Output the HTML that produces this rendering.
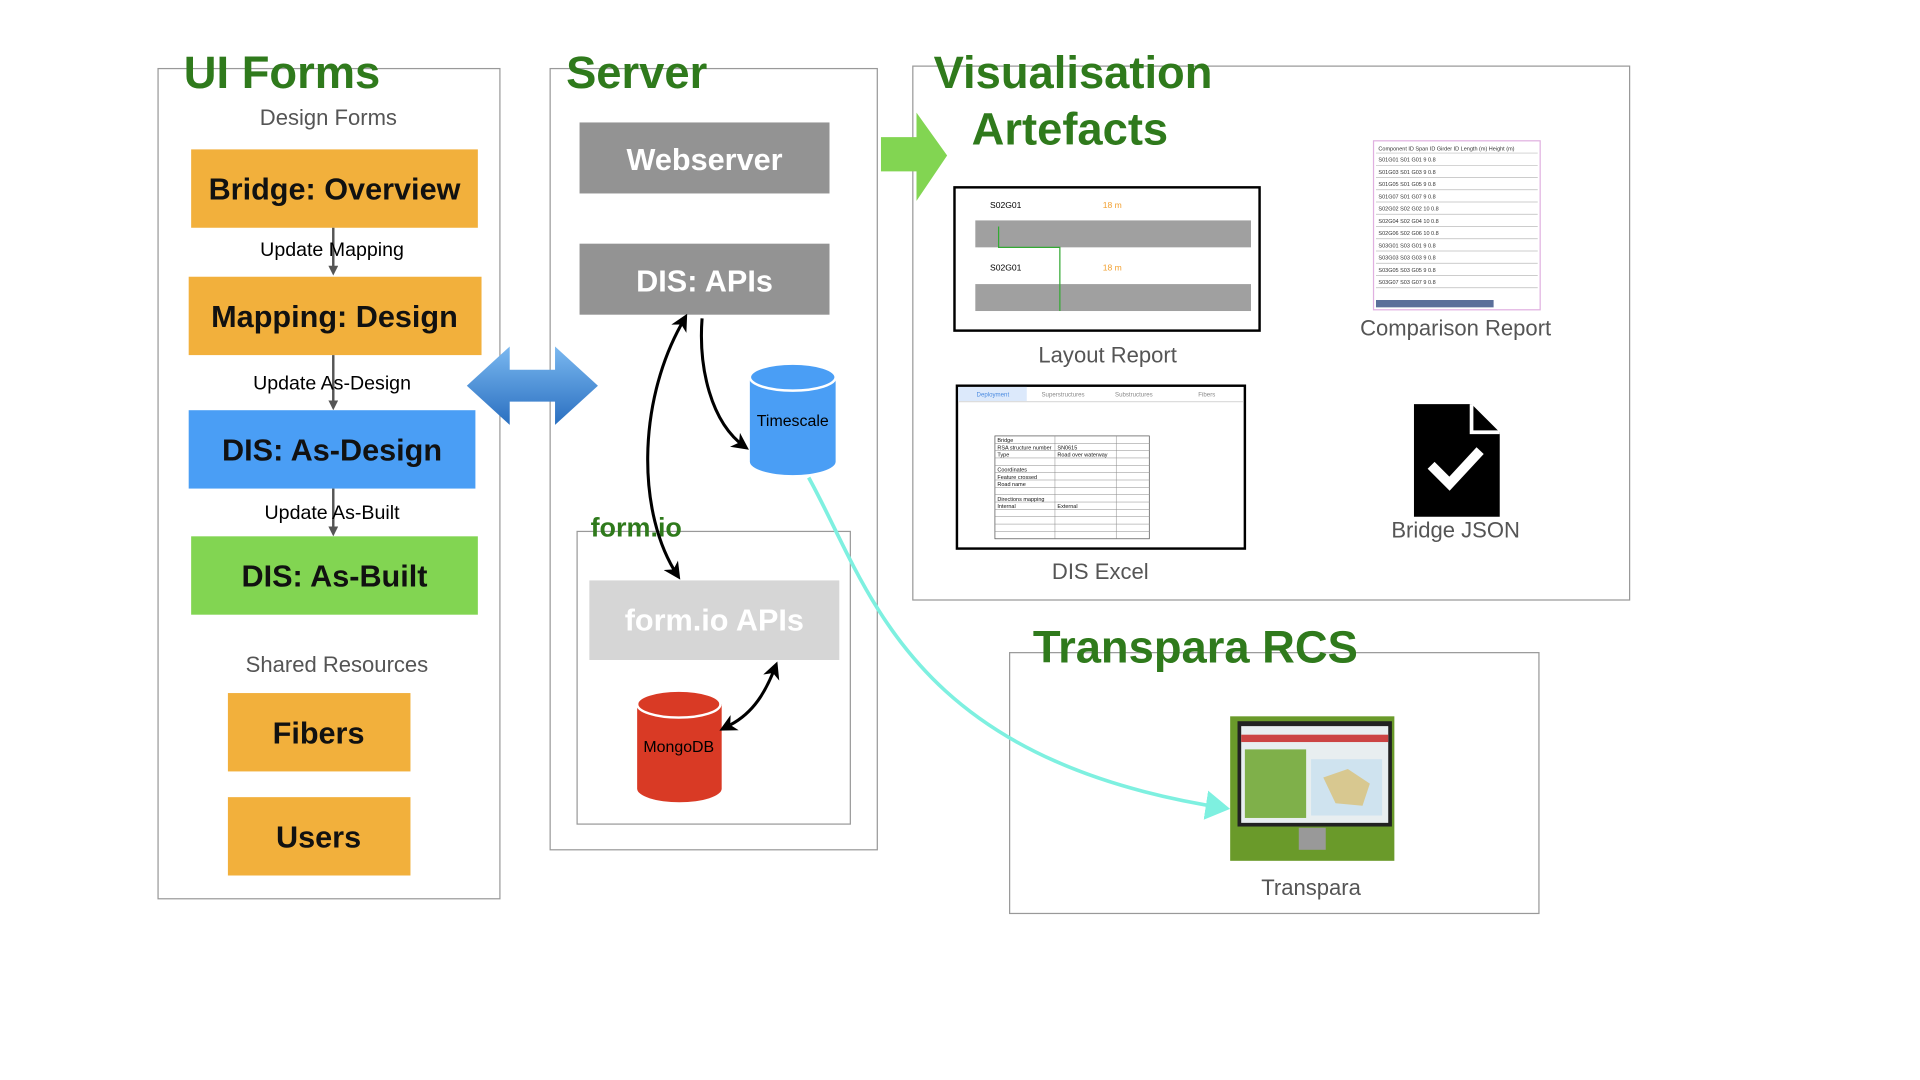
<!DOCTYPE html>
<html><head><meta charset="utf-8"><style>
html,body{margin:0;padding:0;background:#fff;width:1920px;height:1080px;overflow:hidden}
svg{display:block}
text{font-family:"Liberation Sans",sans-serif}
</style></head><body>
<svg width="1920" height="1080" viewBox="0 0 1567 882" preserveAspectRatio="none" xmlns="http://www.w3.org/2000/svg">
<defs>
<marker id="ah" markerWidth="8" markerHeight="8" refX="6" refY="4" orient="auto" markerUnits="userSpaceOnUse"><path d="M0,0 L8,4 L0,8 Z" fill="#555"/></marker>
<marker id="bk" markerWidth="14" markerHeight="14" refX="10" refY="7" orient="auto" markerUnits="userSpaceOnUse"><path d="M0,0 L14,7 L0,14 L4,7 Z" fill="#000"/></marker>
<marker id="bks" markerWidth="14" markerHeight="14" refX="4" refY="7" orient="auto-start-reverse" markerUnits="userSpaceOnUse"><path d="M0,0 L14,7 L0,14 L4,7 Z" fill="#000"/></marker>
<marker id="cy" markerWidth="20" markerHeight="24" refX="16" refY="12" orient="auto" markerUnits="userSpaceOnUse"><path d="M0,0 L20,12 L0,24 Z" fill="#7ef0e0"/></marker>
<linearGradient id="bg" x1="0" y1="0" x2="0" y2="1"><stop offset="0" stop-color="#7ab8f0"/><stop offset="1" stop-color="#2a6fc0"/></linearGradient>
</defs>
<g fill="none" stroke="#999" stroke-width="1">
<rect x="129" y="56" width="279" height="678"/>
<rect x="449" y="56" width="267" height="638"/>
<rect x="471" y="434" width="223" height="239"/>
<rect x="745" y="54" width="585" height="436"/>
<rect x="824" y="533" width="432" height="213"/>
</g>
<g font-weight="bold" fill="#2f7a1c">
<text x="150" y="72" font-size="37">UI Forms</text>
<text x="462" y="72" font-size="37">Server</text>
<text x="762" y="72" font-size="37">Visualisation</text>
<text x="793" y="118" font-size="37">Artefacts</text>
<text x="843" y="541" font-size="37">Transpara RCS</text>
<text x="482" y="438" font-size="22">form.io</text>
</g>
<g fill="#555" font-size="18" text-anchor="middle">
<text x="268" y="102">Design Forms</text>
<text x="275" y="549">Shared Resources</text>
<text x="904" y="296">Layout Report</text>
<text x="1188" y="274">Comparison Report</text>
<text x="898" y="473">DIS Excel</text>
<text x="1188" y="439">Bridge JSON</text>
<text x="1070" y="731">Transpara</text>
</g>
<rect x="156" y="122" width="234" height="64" fill="#f2b03c"/>
<rect x="154" y="226" width="239" height="64" fill="#f2b03c"/>
<rect x="154" y="335" width="234" height="64" fill="#4a9ef5"/>
<rect x="156" y="438" width="234" height="64" fill="#82d552"/>
<rect x="186" y="566" width="149" height="64" fill="#f2b03c"/>
<rect x="186" y="651" width="149" height="64" fill="#f2b03c"/>
<g stroke="#555" stroke-width="2" marker-end="url(#ah)">
<line x1="272" y1="186" x2="272" y2="223"/>
<line x1="272" y1="290" x2="272" y2="333"/>
<line x1="272" y1="399" x2="272" y2="436"/>
</g>
<g font-size="16" fill="#000" text-anchor="middle">
<text x="271" y="209">Update Mapping</text>
<text x="271" y="318">Update As-Design</text>
<text x="271" y="424">Update As-Built</text>
</g>
<g font-size="25" fill="#111" text-anchor="middle" font-weight="bold">
<text x="273" y="163">Bridge: Overview</text>
<text x="273" y="267">Mapping: Design</text>
<text x="271" y="376">DIS: As-Design</text>
<text x="273" y="479">DIS: As-Built</text>
<text x="260" y="607">Fibers</text>
<text x="260" y="692">Users</text>
</g>
<path d="M381,315 L416,283 L416,302 L453,302 L453,283 L488,315 L453,347 L453,328 L416,328 L416,347 Z" fill="url(#bg)"/>
<rect x="473" y="100" width="204" height="58" fill="#939393"/>
<rect x="473" y="199" width="204" height="58" fill="#939393"/>
<rect x="481" y="474" width="204" height="65" fill="#d6d6d6"/>
<g font-size="25" fill="#fff" text-anchor="middle" font-weight="bold">
<text x="575" y="139">Webserver</text>
<text x="575" y="238">DIS: APIs</text>
<text x="583" y="515">form.io APIs</text>
</g>
<path d="M612,308 L612,377 A35,11 0 0 0 682,377 L682,308 Z" fill="#4a9ef5"/>
<ellipse cx="647" cy="308" rx="35" ry="11" fill="#4a9ef5" stroke="#fff" stroke-width="2"/>
<text x="647" y="348" font-size="13" text-anchor="middle" fill="#000">Timescale</text>
<path d="M520,575 L520,644 A34,11 0 0 0 589,644 L589,575 Z" fill="#d93a25"/>
<ellipse cx="554" cy="575" rx="34" ry="11" fill="#d93a25" stroke="#fff" stroke-width="2"/>
<text x="554" y="614" font-size="13" text-anchor="middle" fill="#000">MongoDB</text>
<path d="M719,112 L748,112 L748,92 L773,127 L748,164 L748,140 L719,140 Z" fill="#82d552"/>
<g fill="none" stroke="#000" stroke-width="2.5">
<path d="M573,260 C570,300 580,345 608,365" marker-end="url(#bk)"/>
<path d="M556,265 C520,330 520,420 553,470" marker-start="url(#bks)" marker-end="url(#bk)"/>
<path d="M596,592 C615,582 625,565 633,544" marker-start="url(#bks)" marker-end="url(#bk)"/>
</g>
<path d="M660,390 C710,480 740,620 1000,660" fill="none" stroke="#7ef0e0" stroke-width="3" marker-end="url(#cy)"/>
<rect x="779" y="153" width="249" height="117" fill="#fff" stroke="#000" stroke-width="2"/>
<text x="808" y="170" font-size="7">S02G01</text><text x="900" y="170" font-size="7" fill="#f2a030">18 m</text>
<rect x="796" y="180" width="225" height="22" fill="#a0a0a0"/>
<text x="808" y="221" font-size="7">S02G01</text><text x="900" y="221" font-size="7" fill="#f2a030">18 m</text>
<rect x="796" y="232" width="225" height="22" fill="#a0a0a0"/>
<path d="M815,185 L815,202 L865,202 L865,254" fill="none" stroke="#3a3" stroke-width="1"/>
<rect x="1121" y="115" width="136" height="138" fill="#fff" stroke="#e0b0e0"/>
<g stroke="#bbb" stroke-width="0.6">
<line x1="1123" y1="125" x2="1255" y2="125"/><line x1="1123" y1="135" x2="1255" y2="135"/><line x1="1123" y1="145" x2="1255" y2="145"/><line x1="1123" y1="155" x2="1255" y2="155"/><line x1="1123" y1="165" x2="1255" y2="165"/><line x1="1123" y1="175" x2="1255" y2="175"/><line x1="1123" y1="185" x2="1255" y2="185"/><line x1="1123" y1="195" x2="1255" y2="195"/><line x1="1123" y1="205" x2="1255" y2="205"/><line x1="1123" y1="215" x2="1255" y2="215"/><line x1="1123" y1="225" x2="1255" y2="225"/><line x1="1123" y1="235" x2="1255" y2="235"/>
</g>
<g fill="#333" font-size="4.5" font-family="Liberation Serif">
<text x="1125" y="123">Component ID Span ID  Girder ID  Length (m)  Height (m)</text>
<text x="1125" y="132">S01G01  S01  G01  9  0.8</text><text x="1125" y="142">S01G03  S01  G03  9  0.8</text><text x="1125" y="152">S01G05  S01  G05  9  0.8</text><text x="1125" y="162">S01G07  S01  G07  9  0.8</text><text x="1125" y="172">S02G02  S02  G02  10  0.8</text><text x="1125" y="182">S02G04  S02  G04  10  0.8</text><text x="1125" y="192">S02G06  S02  G06  10  0.8</text><text x="1125" y="202">S03G01  S03  G01  9  0.8</text><text x="1125" y="212">S03G03  S03  G03  9  0.8</text><text x="1125" y="222">S03G05  S03  G05  9  0.8</text><text x="1125" y="232">S03G07  S03  G07  9  0.8</text>
</g>
<rect x="1123" y="245" width="96" height="6" fill="#5a6f9a"/>
<rect x="781" y="315" width="235" height="133" fill="#fff" stroke="#000" stroke-width="2"/>
<rect x="782" y="316" width="56" height="12" fill="#dce9fb"/>
<line x1="782" y1="328" x2="1015" y2="328" stroke="#ddd"/>
<g font-size="5" fill="#888"><text x="797" y="324" fill="#4a8ae0">Deployment</text><text x="850" y="324">Superstructures</text><text x="910" y="324">Substructures</text><text x="978" y="324">Fibers</text></g>
<rect x="812" y="356" width="126" height="84" fill="none" stroke="#555" stroke-width="0.6"/>
<g stroke="#888" stroke-width="0.4"><line x1="812" y1="362" x2="938" y2="362"/><line x1="812" y1="368" x2="938" y2="368"/><line x1="812" y1="374" x2="938" y2="374"/><line x1="812" y1="380" x2="938" y2="380"/><line x1="812" y1="386" x2="938" y2="386"/><line x1="812" y1="392" x2="938" y2="392"/><line x1="812" y1="398" x2="938" y2="398"/><line x1="812" y1="404" x2="938" y2="404"/><line x1="812" y1="410" x2="938" y2="410"/><line x1="812" y1="416" x2="938" y2="416"/><line x1="812" y1="422" x2="938" y2="422"/><line x1="812" y1="428" x2="938" y2="428"/><line x1="812" y1="434" x2="938" y2="434"/><line x1="861" y1="356" x2="861" y2="440"/><line x1="911" y1="356" x2="911" y2="440"/></g>
<g font-size="4.5" fill="#111"><text x="814" y="361">Bridge</text><text x="814" y="367">RSA structure number</text><text x="863" y="367">SN0615</text><text x="814" y="373">Type</text><text x="863" y="373">Road over waterway</text><text x="814" y="385">Coordinates</text><text x="814" y="391">Feature crossed</text><text x="814" y="397">Road name</text><text x="814" y="409">Directions mapping</text><text x="814" y="415">Internal</text><text x="863" y="415">External</text></g>
<path d="M1154,330 L1201,330 L1224,353 L1224,422 L1154,422 Z" fill="#000"/>
<path d="M1201,330 L1201,353 L1224,353" fill="none" stroke="#fff" stroke-width="3"/>
<path d="M1168,380 L1183,395 L1208,368" fill="none" stroke="#fff" stroke-width="8"/>
<rect x="1004" y="585" width="134" height="118" fill="#6a9a2a"/>
<rect x="1010" y="589" width="126" height="86" fill="#222"/>
<rect x="1013" y="593" width="120" height="79" fill="#e8eef0"/>
<rect x="1013" y="600" width="120" height="6" fill="#c44"/>
<rect x="1016" y="612" width="50" height="56" fill="#7fb04a"/>
<rect x="1070" y="620" width="58" height="46" fill="#cfe3ef"/>
<path d="M1080,635 L1100,628 L1118,640 L1112,658 L1090,656 Z" fill="#d8c890"/>
<rect x="1060" y="676" width="22" height="18" fill="#999"/>
</svg>
</body></html>
